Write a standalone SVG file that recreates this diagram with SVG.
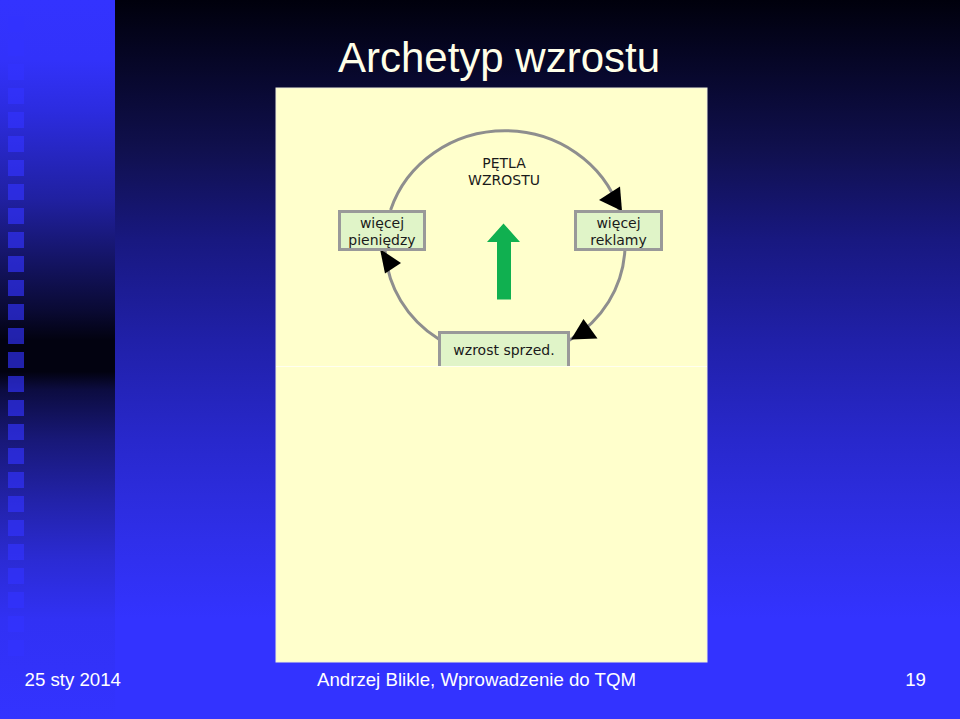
<svg xmlns="http://www.w3.org/2000/svg" width="960" height="719" viewBox="0 0 960 719">
  <defs>
    <linearGradient id="mainBg" gradientUnits="userSpaceOnUse" x1="0" y1="0" x2="0" y2="719">
      <stop offset="0" stop-color="#00000c"/>
      <stop offset="0.083" stop-color="#060626"/>
      <stop offset="0.209" stop-color="#10104e"/>
      <stop offset="0.334" stop-color="#181880"/>
      <stop offset="0.473" stop-color="#2020a8"/>
      <stop offset="0.612" stop-color="#2828cc"/>
      <stop offset="0.751" stop-color="#2f2fea"/>
      <stop offset="0.862" stop-color="#3333ff"/>
      <stop offset="1" stop-color="#3333ff"/>
    </linearGradient>
    <linearGradient id="stripBg" gradientUnits="userSpaceOnUse" x1="0" y1="0" x2="0" y2="719">
      <stop offset="0" stop-color="#3333ff"/>
      <stop offset="0.083" stop-color="#3232fa"/>
      <stop offset="0.153" stop-color="#2c2ce0"/>
      <stop offset="0.278" stop-color="#2020a0"/>
      <stop offset="0.362" stop-color="#141464"/>
      <stop offset="0.431" stop-color="#0a0a34"/>
      <stop offset="0.473" stop-color="#020210"/>
      <stop offset="0.517" stop-color="#020210"/>
      <stop offset="0.542" stop-color="#0c0c40"/>
      <stop offset="0.612" stop-color="#181878"/>
      <stop offset="0.695" stop-color="#2222a8"/>
      <stop offset="0.779" stop-color="#2b2bd4"/>
      <stop offset="0.862" stop-color="#3131f4"/>
      <stop offset="1" stop-color="#3333ff"/>
    </linearGradient>
  </defs>
  <style>
    .sq { fill: #3333ff; fill-opacity: 0.65; }
    .title { font-family: "Liberation Sans", Arial, sans-serif; font-size: 42px; fill: #ffffe8; }
    .foot { font-family: "Liberation Sans", Arial, sans-serif; font-size: 18.67px; fill: #ffffff; }
    .box { fill: #e0f4c8; stroke: #999999; stroke-width: 3; }
    .lbl { font-family: "DejaVu Sans", Verdana, sans-serif; font-size: 14px; fill: #1a1a1a; text-anchor: middle; }
    .arc { fill: none; stroke: #8e8e8e; stroke-width: 3; }
    .head { fill: #000000; }
  </style>

  <!-- background -->
  <rect x="0" y="0" width="960" height="719" fill="url(#mainBg)"/>
  <rect x="0" y="0" width="115" height="719" fill="url(#stripBg)"/>
  <g id="squares">
    <rect class="sq" x="8" y="16" width="16" height="16"/>
    <rect class="sq" x="8" y="40" width="16" height="16"/>
    <rect class="sq" x="8" y="64" width="16" height="16"/>
    <rect class="sq" x="8" y="88" width="16" height="16"/>
    <rect class="sq" x="8" y="112" width="16" height="16"/>
    <rect class="sq" x="8" y="136" width="16" height="16"/>
    <rect class="sq" x="8" y="160" width="16" height="16"/>
    <rect class="sq" x="8" y="184" width="16" height="16"/>
    <rect class="sq" x="8" y="208" width="16" height="16"/>
    <rect class="sq" x="8" y="232" width="16" height="16"/>
    <rect class="sq" x="8" y="256" width="16" height="16"/>
    <rect class="sq" x="8" y="280" width="16" height="16"/>
    <rect class="sq" x="8" y="304" width="16" height="16"/>
    <rect class="sq" x="8" y="328" width="16" height="16"/>
    <rect class="sq" x="8" y="352" width="16" height="16"/>
    <rect class="sq" x="8" y="376" width="16" height="16"/>
    <rect class="sq" x="8" y="400" width="16" height="16"/>
    <rect class="sq" x="8" y="424" width="16" height="16"/>
    <rect class="sq" x="8" y="448" width="16" height="16"/>
    <rect class="sq" x="8" y="472" width="16" height="16"/>
    <rect class="sq" x="8" y="496" width="16" height="16"/>
    <rect class="sq" x="8" y="520" width="16" height="16"/>
    <rect class="sq" x="8" y="544" width="16" height="16"/>
    <rect class="sq" x="8" y="568" width="16" height="16"/>
    <rect class="sq" x="8" y="592" width="16" height="16"/>
    <rect class="sq" x="8" y="616" width="16" height="16"/>
    <rect class="sq" x="8" y="640" width="16" height="16"/>
  </g>

  <text id="title" class="title" x="499" y="71.5" text-anchor="middle">Archetyp wzrostu</text>

  <!-- panel -->
  <g id="panel">
    <rect x="276" y="88" width="431" height="574" fill="#ffffcc" stroke="#f0f0dc" stroke-width="1"/>
    <line x1="276" y1="366.5" x2="707" y2="366.5" stroke="#fffff0" stroke-width="1"/>
  </g>

  <text id="loop-label" class="lbl"><tspan x="504" y="167.5">PĘTLA</tspan><tspan x="504" y="184.5">WZROSTU</tspan></text>

  <g id="connectors">
    <path class="arc" d="M390.6,210 A120,113.5 0 0 1 619.4,210"/>
    <path class="arc" d="M624.9,250 A120,113.5 0 0 1 569,340.5"/>
    <path class="arc" d="M439,339.3 A120,113.5 0 0 1 385.1,250"/>
    <polygon class="head" points="599,200 620,186.5 622,211"/>
    <polygon class="head" points="571,339.5 583.5,319 597.5,338.5"/>
    <polygon class="head" points="380,249 401,263 385,273.5"/>
  </g>

  <g id="node-pieniedzy">
    <rect class="box" x="339.5" y="211.5" width="85" height="38"/>
    <text class="lbl"><tspan x="382" y="228">więcej</tspan><tspan x="382" y="244.5">pieniędzy</tspan></text>
  </g>
  <g id="node-reklamy">
    <rect class="box" x="575.5" y="211.5" width="86" height="38"/>
    <text class="lbl"><tspan x="618.5" y="228">więcej</tspan><tspan x="618.5" y="244.5">reklamy</tspan></text>
  </g>
  <g id="node-sprzedaz">
    <rect x="439.5" y="332.5" width="129" height="33.5" fill="#e0f4c8"/>
    <path d="M439.5,366 V332.5 H568.5 V366" fill="none" stroke="#999999" stroke-width="3"/>
    <text class="lbl" x="504" y="355">wzrost sprzed.</text>
  </g>

  <g id="growth-arrow">
    <polygon points="497,299.5 511,299.5 511,242 520,242 503.5,223.5 487,242 497,242" fill="#10b050"/>
  </g>

  <g id="footer">
    <text class="foot" x="24.5" y="686">25 sty 2014</text>
    <text class="foot" x="317" y="686">Andrzej Blikle, Wprowadzenie do TQM</text>
    <text class="foot" x="926" y="686" text-anchor="end">19</text>
  </g>
</svg>
